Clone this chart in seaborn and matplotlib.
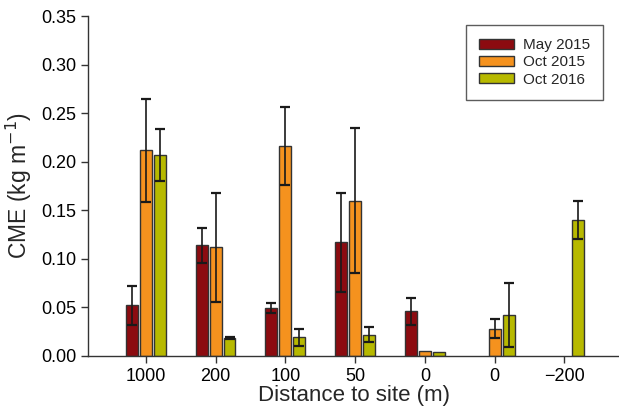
import numpy as np
import pandas as pd
import matplotlib
matplotlib.use("Agg")
import matplotlib.pyplot as plt
import seaborn as sns

# Distance categories (two separate "0" sites, so keep keys unique)
sites = ["1000", "200", "100", "50", "0a", "0b", "-200"]
site_labels = ["1000", "200", "100", "50", "0", "0", "\u2212200"]
campaigns = ["May 2015", "Oct 2015", "Oct 2016"]

# CME means and error; NaN = no bar
may2015 = [0.052, 0.114, 0.049, 0.117, 0.046, np.nan, np.nan]
may2015_err = [0.020, 0.018, 0.005, 0.051, 0.014, np.nan, np.nan]
oct2015 = [0.212, 0.112, 0.216, 0.160, 0.005, 0.028, np.nan]
oct2015_err = [0.053, 0.056, 0.040, 0.075, 0.0, 0.010, np.nan]
oct2016 = [0.207, 0.018, 0.019, 0.022, 0.004, 0.042, 0.140]
oct2016_err = [0.027, 0.001, 0.009, 0.008, 0.0, 0.033, 0.020]

colors = ["#8c0b10", "#f5921e", "#b7b900"]

rows = []
for camp, vals, errs in zip(campaigns, [may2015, oct2015, oct2016],
                            [may2015_err, oct2015_err, oct2016_err]):
    for s, v, e in zip(sites, vals, errs):
        rows.append({"site": s, "campaign": camp, "cme": v, "err": e})
df = pd.DataFrame(rows)
plot_df = df.dropna(subset=["cme"])

sns.set_style("ticks")
plt.rcParams["font.family"] = ["Liberation Sans", "DejaVu Sans"]

fig = plt.figure(figsize=(6.19, 4.11), dpi=100)
ax = fig.add_axes([0.142, 0.134, 0.86, 0.827])

sns.barplot(data=plot_df, x="site", y="cme", hue="campaign", order=sites,
            hue_order=campaigns, palette=colors, width=0.6, gap=0.15,
            errorbar=None, edgecolor="#333333", linewidth=1.0, saturation=1,
            ax=ax)

# error bars from the drawn bar positions
for camp, cont in zip(campaigns, ax.containers):
    sub = plot_df[plot_df["campaign"] == camp].set_index("site")
    for bar in cont:
        xc = bar.get_x() + bar.get_width() / 2
        site = sites[int(round(xc))]
        if site not in sub.index:
            continue
        e = sub.loc[site, "err"]
        if e > 0:
            ax.errorbar(xc, sub.loc[site, "cme"], yerr=e, fmt="none",
                        ecolor="#1a1a1a", elinewidth=1.2, capsize=3.5,
                        capthick=1.6)

ax.set_xlim(-0.83, 6.8)
ax.set_ylim(0, 0.35)
ax.set_yticks(np.arange(0, 0.351, 0.05))
ax.set_yticklabels([f"{v:.2f}" for v in np.arange(0, 0.351, 0.05)])
ax.set_xticks(range(len(sites)))
ax.set_xticklabels(site_labels)
ax.tick_params(axis="both", labelsize=13, length=5, width=1, colors="#333333",
               labelcolor="black")
ax.tick_params(axis="x", pad=4)
ax.set_xlabel("Distance to site (m)", fontsize=16, labelpad=0)
ax.set_ylabel("CME (kg m$^{-1}$)", fontsize=16.5, labelpad=5)
for side in ["top", "right"]:
    ax.spines[side].set_visible(False)
for side in ["left", "bottom"]:
    ax.spines[side].set_color("#333333")
    ax.spines[side].set_linewidth(1.0)

leg = ax.legend(loc="upper right", bbox_to_anchor=(0.968, 0.9735), fontsize=11,
                frameon=True, fancybox=False, edgecolor="#333333",
                handlelength=2.3, handleheight=0.65, handletextpad=0.6,
                borderpad=0.85, borderaxespad=0, labelspacing=0.22, title=None)
leg.get_frame().set_linewidth(1.0)

fig.savefig("out.png", dpi=100)
